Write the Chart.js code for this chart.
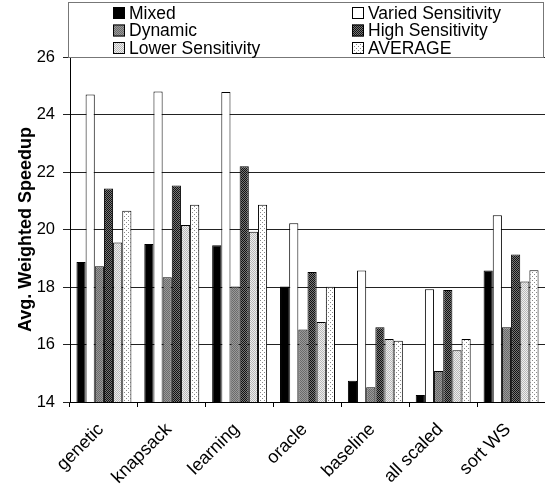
<!DOCTYPE html>
<html>
<head>
<meta charset="utf-8">
<script src="https://cdn.jsdelivr.net/npm/chart.js@4"></script>
<style>
  body { margin: 0; background: #fff; }
</style>
</head>
<body>
<canvas id="chart" width="545" height="484"></canvas>
<script>
const categories = ['genetic', 'knapsack', 'learning', 'oracle', 'baseline', 'all scaled', 'sort WS']
const mixed    = [18.87, 19.50, 19.45, 18.02, 14.74, 14.24, 18.57]
const varied   = [24.70, 24.80, 24.78, 20.22, 18.57, 17.92, 20.50]
const dynamic  = [18.72, 18.34, 18.02, 16.52, 14.51, 15.08, 16.60]
const high     = [21.43, 21.53, 22.20, 18.52, 16.60, 17.90, 19.13]
const lower    = [19.55, 20.16, 19.92, 16.78, 16.19, 15.80, 18.19]
const average  = [20.65, 20.86, 20.86, 18.01, 16.13, 16.19, 18.58]
const yTicks = [14, 16, 18, 20, 22, 24, 26]

const FONT = "'Liberation Sans', Arial, sans-serif"

// little tiled fills like the old excel patterns
function pattern(size, bg, fg, dots) {
  const c = document.createElement('canvas')
  c.width = size; c.height = size
  const g = c.getContext('2d')
  g.fillStyle = bg
  g.fillRect(0, 0, size, size)
  g.fillStyle = fg
  dots.forEach(([x, y]) => g.fillRect(x, y, 1, 1))
  return g.createPattern(c, 'repeat')
}

const fills = {
  mixed: '#000000',
  varied: '#ffffff',
  dynamic: pattern(2, '#9a9a9a', '#6a6a6a', [[0, 0], [1, 1]]),
  high: pattern(2, '#777777', '#111111', [[0, 0], [1, 1]]),
  lower: pattern(2, '#eeeeee', '#b8b8b8', [[0, 0], [1, 1]]),
  average: pattern(4, '#ffffff', '#888888', [[0, 0], [2, 2]])
}

const series = [
  { label: 'Mixed', data: mixed, fill: fills.mixed },
  { label: 'Varied Sensitivity', data: varied, fill: fills.varied },
  { label: 'Dynamic', data: dynamic, fill: fills.dynamic },
  { label: 'High Sensitivity', data: high, fill: fills.high },
  { label: 'Lower Sensitivity', data: lower, fill: fills.lower },
  { label: 'AVERAGE', data: average, fill: fills.average }
]

// legend box sits above the plot, two columns
const boxLegend = {
  id: 'boxLegend',
  afterDraw(chart) {
    const ctx = chart.ctx
    const area = chart.chartArea
    ctx.save()
    ctx.strokeStyle = '#777777'
    ctx.lineWidth = 1
    ctx.strokeRect(area.left - 1.5, 2.5, area.right - area.left, area.top - 2)
    ctx.font = '17.5px ' + FONT
    ctx.textBaseline = 'middle'
    ctx.fillStyle = '#000'
    const cols = [113, 352]
    const rows = [13, 30.5, 48]
    chart.data.datasets.forEach((ds, i) => {
      const x = cols[i % 2]
      const y = rows[Math.floor(i / 2)]
      ctx.fillStyle = ds.backgroundColor
      ctx.fillRect(x, y - 6, 12, 12)
      ctx.strokeStyle = '#000'
      ctx.strokeRect(x + 0.5, y - 5.5, 11, 11)
      ctx.fillStyle = '#000'
      ctx.fillText(ds.label, x + 16, y + 1)
    })
    ctx.restore()
  }
}

const ctx = document.getElementById('chart').getContext('2d')
const myChart = new Chart(ctx, {
  type: 'bar',
  data: {
    labels: categories,
    datasets: series.map(s => ({
      label: s.label,
      data: s.data,
      backgroundColor: s.fill,
      borderColor: '#000000',
      borderWidth: 1,
      borderSkipped: 'bottom'
    }))
  },
  options: {
    responsive: false,
    animation: false,
    devicePixelRatio: 1,
    layout: { padding: { top: 57, right: 0, bottom: 0, left: 0 } },
    categoryPercentage: 0.81,
    barPercentage: 1,
    plugins: {
      legend: { display: false },
      tooltip: { enabled: false }
    },
    scales: {
      x: {
        afterFit: s => { s.height = 82 },
        grid: { offset: true, drawOnChartArea: false, tickLength: 5, color: '#000' },
        border: { color: '#000', width: 1 },
        ticks: {
          minRotation: 45,
          maxRotation: 45,
          padding: 12,
          labelOffset: -3,
          color: '#000',
          font: { family: FONT, size: 18 }
        }
      },
      y: {
        min: 14,
        max: 26,
        afterFit: s => { s.width = 70 },
        afterBuildTicks: s => { s.ticks = yTicks.map(v => ({ value: v })) },
        grid: { color: '#222', tickLength: 7, lineWidth: 1 },
        border: { color: '#000', width: 1 },
        ticks: {
          padding: 8,
          color: '#000',
          font: { family: FONT, size: 16.5 }
        },
        title: {
          display: true,
          text: 'Avg. Weighted Speedup',
          color: '#000',
          font: { family: FONT, size: 18, weight: 'bold' },
          padding: { top: 15, bottom: 0 }
        }
      }
    }
  },
  plugins: [boxLegend]
})
</script>
</body>
</html>
